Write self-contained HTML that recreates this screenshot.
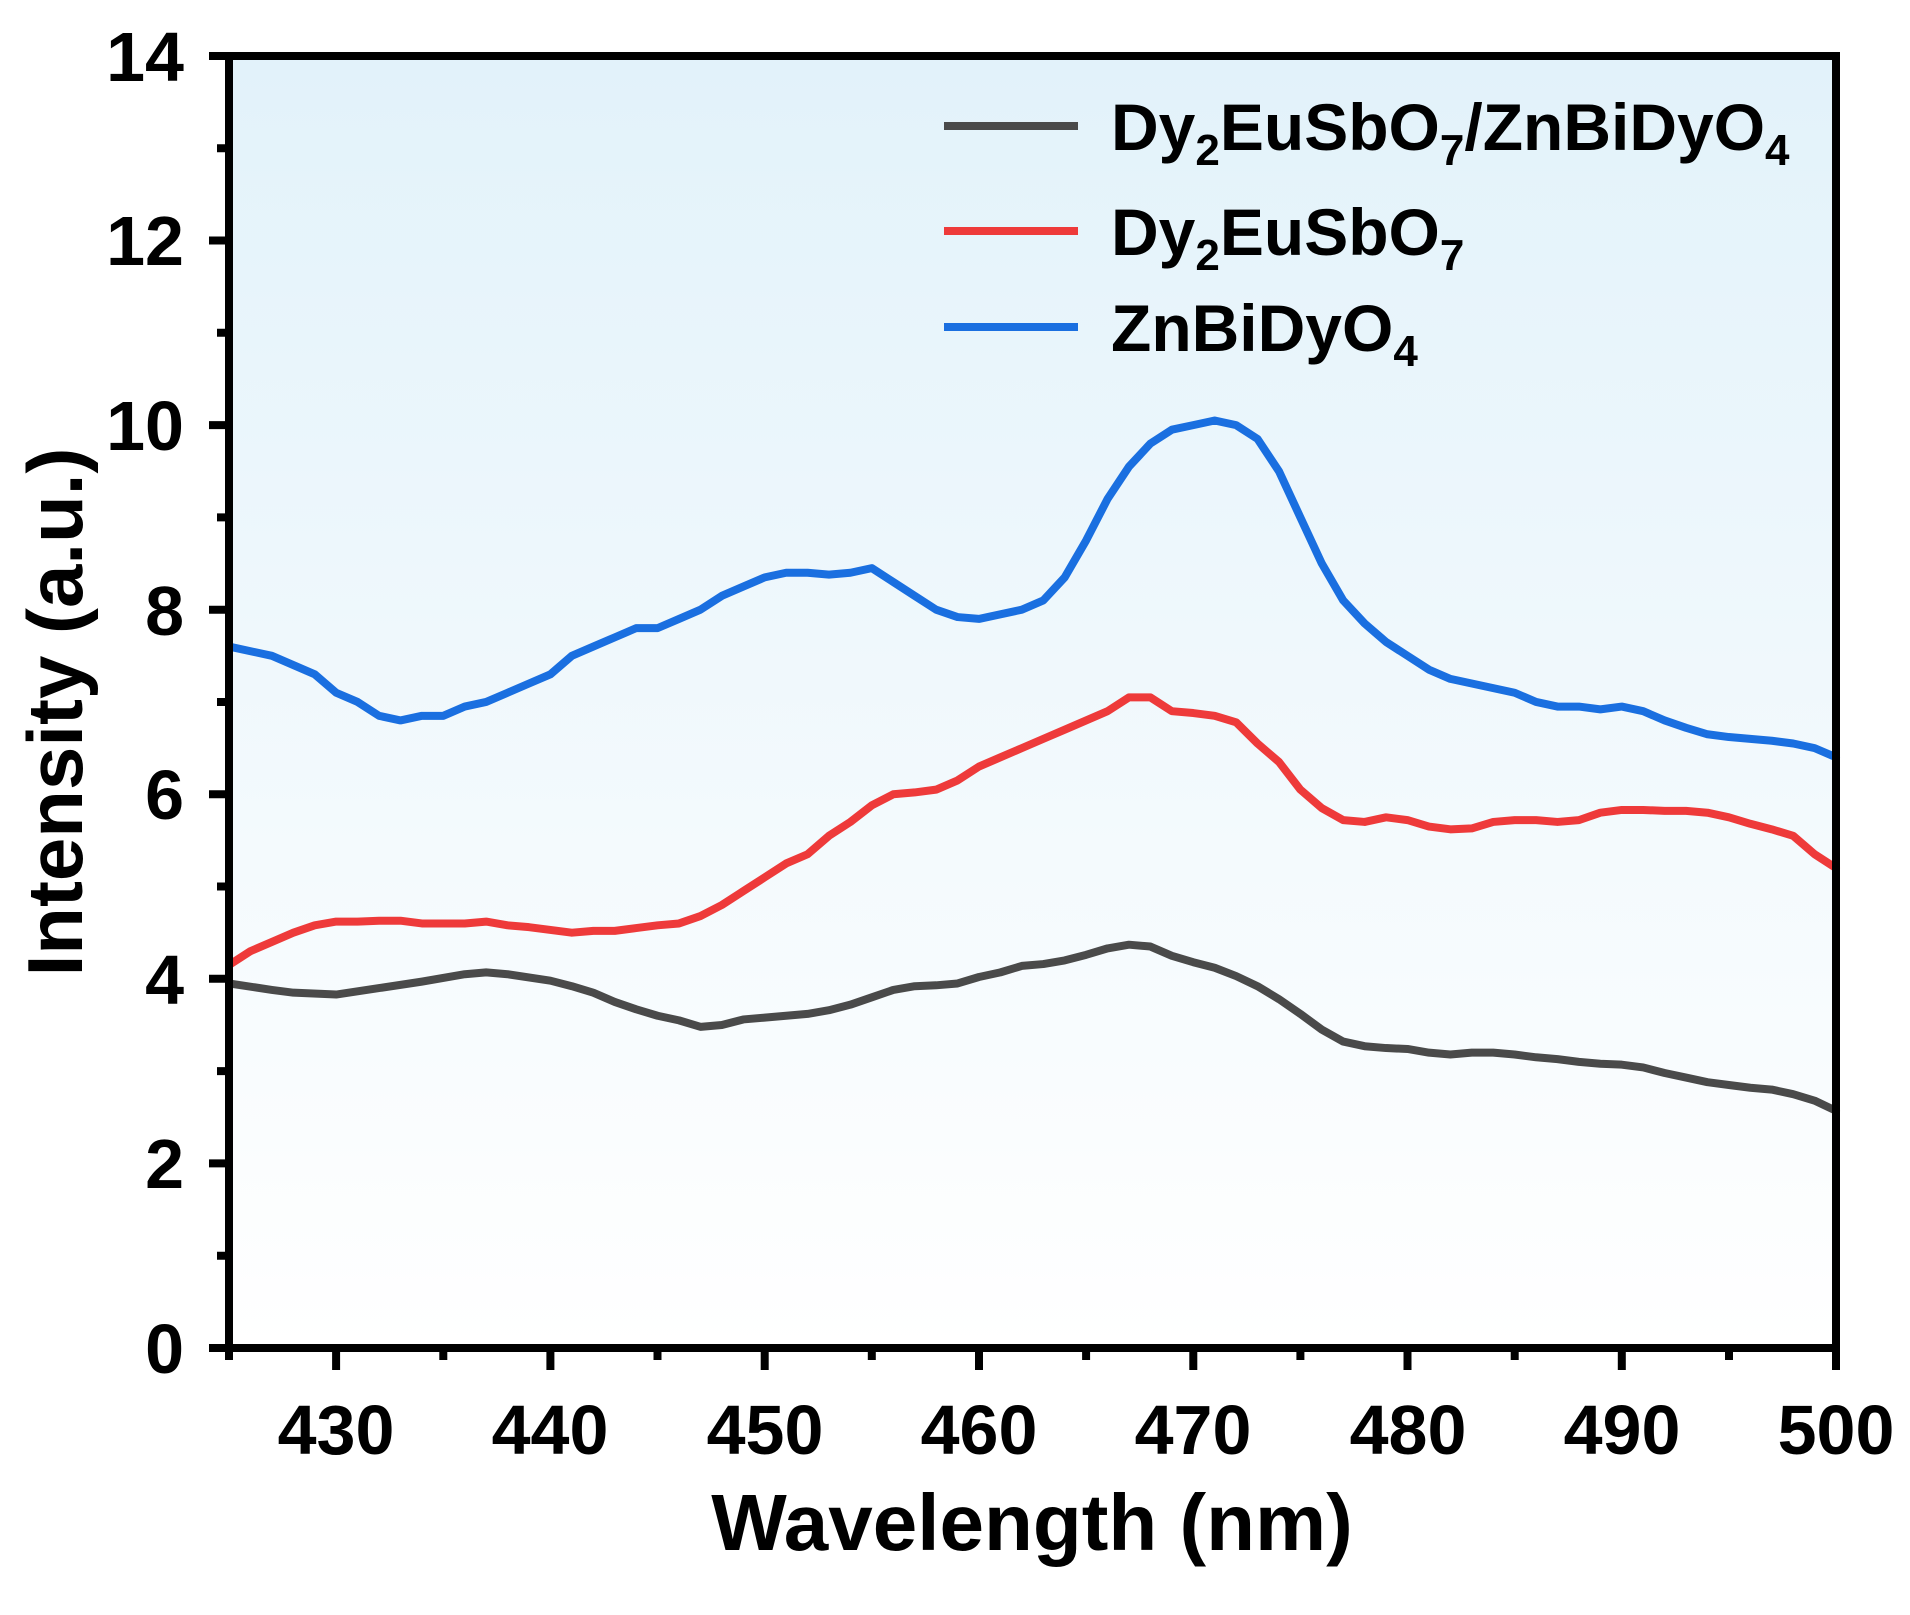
<!DOCTYPE html>
<html><head><meta charset="utf-8"><style>
html,body{margin:0;padding:0;background:#fff;}
svg{display:block;font-family:"Liberation Sans",Arial,sans-serif;font-weight:bold;}
</style></head><body>
<svg width="1910" height="1615" viewBox="0 0 1910 1615" xmlns="http://www.w3.org/2000/svg">
<defs><linearGradient id="bg" x1="0" y1="0" x2="0" y2="1">
<stop offset="0" stop-color="#e2f2fa"/><stop offset="1" stop-color="#ffffff"/></linearGradient></defs>
<rect x="229" y="56" width="1607" height="1292" fill="url(#bg)"/>
<g fill="none" stroke-width="8" stroke-linejoin="round" stroke-linecap="round">
<polyline vector-effect="non-scaling-stroke" transform="matrix(21.4267 0 0 -92.29 -8877.3 1348)" stroke="#1a6fe0" points="425,7.6 427,7.5 429,7.3 430,7.1 431,7.0 432,6.85 433,6.8 434,6.85 435,6.85 436,6.95 437,7.0 438,7.1 439,7.2 440,7.3 441,7.5 442,7.6 443,7.7 444,7.8 445,7.8 446,7.9 447,8.0 448,8.15 449,8.25 450,8.35 451,8.4 452,8.4 453,8.38 454,8.4 455,8.45 456,8.3 457,8.15 458,8.0 459,7.92 460,7.9 461,7.95 462,8.0 463,8.1 464,8.35 465,8.75 466,9.2 467,9.55 468,9.8 469,9.95 470,10.0 471,10.05 472,10.0 473,9.85 474,9.5 475,9.0 476,8.5 477,8.1 478,7.85 479,7.65 480,7.5 481,7.35 482,7.25 483,7.2 484,7.15 485,7.1 486,7.0 487,6.95 488,6.95 489,6.92 490,6.95 491,6.9 492,6.8 493,6.72 494,6.65 495,6.62 496,6.6 497,6.58 498,6.55 499,6.5 500,6.4"/>
<polyline vector-effect="non-scaling-stroke" transform="matrix(21.4267 0 0 -92.29 -8877.3 1348)" stroke="#ee3a3a" points="425,4.15 426,4.3 427,4.4 428,4.5 429,4.58 430,4.62 431,4.62 432,4.63 433,4.63 434,4.6 435,4.6 436,4.6 437,4.62 438,4.58 439,4.56 440,4.53 441,4.5 442,4.52 443,4.52 444,4.55 445,4.58 446,4.6 447,4.68 448,4.8 449,4.95 450,5.1 451,5.25 452,5.35 453,5.55 454,5.7 455,5.88 456,6.0 457,6.02 458,6.05 459,6.15 460,6.3 461,6.4 462,6.5 463,6.6 464,6.7 465,6.8 466,6.9 467,7.05 468,7.05 469,6.9 470,6.88 471,6.85 472,6.78 473,6.55 474,6.35 475,6.05 476,5.85 477,5.72 478,5.7 479,5.75 480,5.72 481,5.65 482,5.62 483,5.63 484,5.7 485,5.72 486,5.72 487,5.7 488,5.72 489,5.8 490,5.83 491,5.83 492,5.82 493,5.82 494,5.8 495,5.75 496,5.68 497,5.62 498,5.55 499,5.35 500,5.2"/>
<polyline vector-effect="non-scaling-stroke" transform="matrix(21.4267 0 0 -92.29 -8877.3 1348)" stroke="#4a4a4a" points="425,3.95 427,3.88 428,3.85 430,3.83 432,3.9 434,3.97 436,4.05 437,4.07 438,4.05 440,3.98 441,3.92 442,3.85 443,3.75 444,3.67 445,3.6 446,3.55 447,3.48 448,3.5 449,3.56 450,3.58 452,3.62 453,3.66 454,3.72 455,3.8 456,3.88 457,3.92 458,3.93 459,3.95 460,4.02 461,4.07 462,4.14 463,4.16 464,4.2 465,4.26 466,4.33 467,4.37 468,4.35 469,4.25 470,4.18 471,4.12 472,4.03 473,3.92 474,3.78 475,3.62 476,3.45 477,3.32 478,3.27 479,3.25 480,3.24 481,3.2 482,3.18 483,3.2 484,3.2 485,3.18 486,3.15 487,3.13 488,3.1 489,3.08 490,3.07 491,3.04 492,2.98 493,2.93 494,2.88 495,2.85 496,2.82 497,2.8 498,2.75 499,2.68 500,2.57"/>
</g>
<g stroke="#000" stroke-width="8" fill="none">
<rect x="229" y="56" width="1607" height="1292"/>
<path d="M229 1348h-20M229 1163.4h-20M229 978.8h-20M229 794.3h-20M229 609.7h-20M229 425.1h-20M229 240.5h-20M229 56h-20"/>
<path d="M229 1255.7h-12M229 1071.1h-12M229 886.5h-12M229 702h-12M229 517.4h-12M229 332.8h-12M229 148.2h-12"/>
<path d="M336.1 1348v22M550.4 1348v22M764.7 1348v22M979 1348v22M1193.3 1348v22M1407.5 1348v22M1621.8 1348v22M1836 1348v22"/>
<path d="M229 1348v12M443.3 1348v12M657.5 1348v12M871.8 1348v12M1086.1 1348v12M1300.4 1348v12M1514.7 1348v12M1729 1348v12"/>
</g>
<g font-size="70" text-anchor="end" fill="#000">
<text x="184" y="1373">0</text><text x="184" y="1188">2</text><text x="184" y="1004">4</text><text x="184" y="819">6</text><text x="184" y="635">8</text><text x="184" y="450">10</text><text x="184" y="265">12</text><text x="184" y="81">14</text>
</g>
<g font-size="70" text-anchor="middle" fill="#000">
<text x="336" y="1454">430</text><text x="550" y="1454">440</text><text x="765" y="1454">450</text><text x="979" y="1454">460</text><text x="1193" y="1454">470</text><text x="1408" y="1454">480</text><text x="1622" y="1454">490</text><text x="1836" y="1454">500</text>
</g>
<text x="1032" y="1550" font-size="80" text-anchor="middle">Wavelength (nm)</text>
<text transform="translate(82 712) rotate(-90)" font-size="78" text-anchor="middle">Intensity (a.u.)</text>
<g stroke-width="8">
<line x1="944" y1="126" x2="1078" y2="126" stroke="#4a4a4a"/>
<line x1="944" y1="231" x2="1078" y2="231" stroke="#ee3a3a"/>
<line x1="944" y1="327" x2="1078" y2="327" stroke="#1a6fe0"/>
</g>
<g font-size="66" fill="#000">
<text x="1111" y="150">Dy<tspan font-size="44" dy="15">2</tspan><tspan dy="-15">EuSbO</tspan><tspan font-size="44" dy="15">7</tspan><tspan dy="-15">/ZnBiDyO</tspan><tspan font-size="44" dy="15">4</tspan></text>
<text x="1111" y="255">Dy<tspan font-size="44" dy="15">2</tspan><tspan dy="-15">EuSbO</tspan><tspan font-size="44" dy="15">7</tspan></text>
<text x="1111" y="351">ZnBiDyO<tspan font-size="44" dy="15">4</tspan></text>
</g>
</svg>
</body></html>
